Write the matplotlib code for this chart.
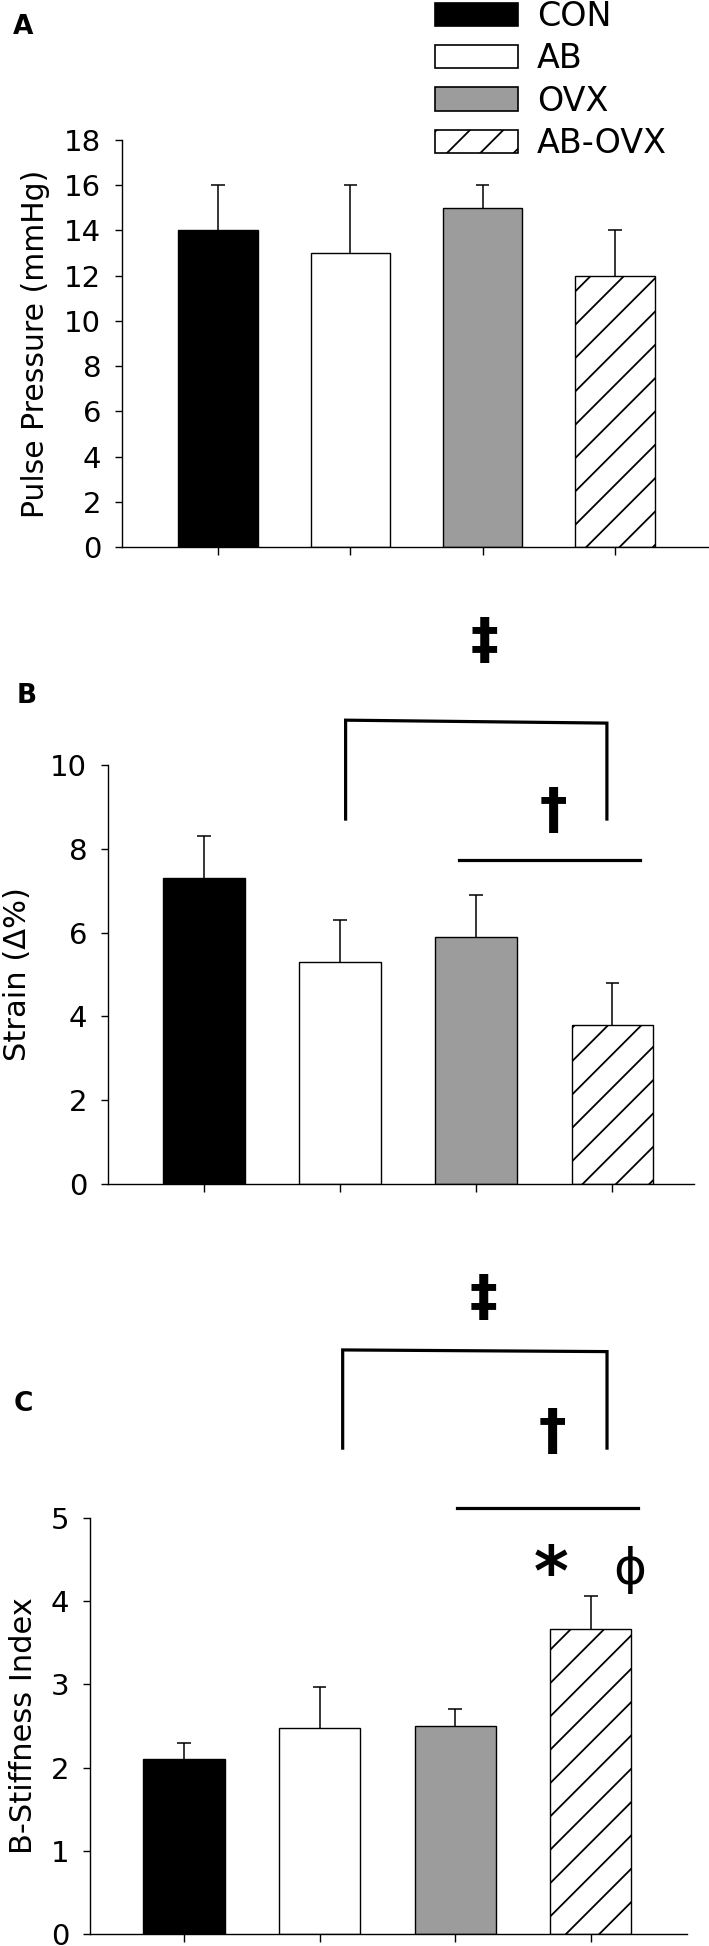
import numpy as np
import matplotlib.pyplot as plt
from matplotlib.patches import Patch

plt.rcParams['font.family'] = ['DejaVu Sans']
plt.rcParams['hatch.linewidth'] = 1.3

groups = ["CON", "AB", "OVX", "AB-OVX"]
colors = ["black", "white", "#9c9c9c", "white"]
hatches = ["", "", "", "/"]

pulse_mean = [14, 13, 15, 12]
pulse_err = [2, 3, 1, 2]
strain_mean = [7.3, 5.3, 5.9, 3.8]
strain_err = [1.0, 1.0, 1.0, 1.0]
stiff_mean = [2.1, 2.47, 2.5, 3.66]
stiff_err = [0.2, 0.5, 0.2, 0.4]

W, H = 709, 1946
fig = plt.figure(figsize=(W / 100, H / 100), dpi=100)


def px_axes(left, right, top, bottom):
    return fig.add_axes([left / W, 1 - bottom / H, (right - left) / W, (bottom - top) / H])


def panel(ax, means, errs, ymax, step, xlim, label, labx, labsize):
    x = np.arange(len(groups))
    means = np.array(means)
    errs = np.array(errs)
    bs = ax.bar(x, means, width=0.6, color=colors, edgecolor='black', linewidth=1.0, zorder=2)
    for b, h in zip(bs, hatches):
        b.set_hatch(h)
    # upward error bars only
    ax.vlines(x, means, means + errs, color='black', lw=1.1, zorder=1)
    ax.hlines(means + errs, x - 0.05, x + 0.05, color='black', lw=1.1, zorder=1)
    ax.set_xlim(*xlim)
    ax.set_ylim(0, ymax)
    ax.set_yticks(np.arange(0, ymax + 0.01, step))
    ax.set_xticks(x)
    ax.spines['top'].set_visible(False)
    ax.spines['right'].set_visible(False)
    ax.spines['left'].set_bounds(0, ymax)
    ax.spines['left'].set_linewidth(1.0)
    ax.spines['bottom'].set_linewidth(1.0)
    ax.tick_params(axis='y', direction='out', length=5, width=1, labelsize=21, pad=10)
    ax.tick_params(axis='x', direction='out', length=6, width=1, labelbottom=False)
    ax.set_ylabel(label, fontsize=labsize)
    ax.yaxis.label.set_va('center')
    ax.yaxis.set_label_coords(labx, 0.5)
    ax.patch.set_alpha(0)


sym = dict(fontsize=40, fontweight='bold', ha='center', va='center')

# panel A
axA = px_axes(122, 709, 140, 547)
panel(axA, pulse_mean, pulse_err, 18, 2, (-0.726, 3.71), "Pulse Pressure (mmHg)", -0.147, 21.5)
fig.text(23 / W, 1 - 27 / H, "A", fontsize=19, fontweight='bold', ha='center', va='center')

handles = [Patch(facecolor=c, edgecolor='black', hatch=h, linewidth=1.2) for c, h in zip(colors, hatches)]
fig.legend(handles, groups, loc='upper left', bbox_to_anchor=(435 / W, 1.0), frameon=False,
           fontsize=24, handlelength=2.5, handleheight=0.7, labelspacing=0.28,
           handletextpad=0.55, borderpad=0, borderaxespad=0)

# panel B
axB = px_axes(108, 694, 765, 1184)
panel(axB, strain_mean, strain_err, 10, 2, (-0.706, 3.6), "Strain (\u0394%)", -0.154, 22)
fig.text(27 / W, 1 - 696 / H, "B", fontsize=19, fontweight='bold', ha='center', va='center')
axB.plot([1.04, 1.04, 2.96, 2.96], [8.71, 11.07, 11.0, 8.71], color='black', lw=2.3,
         clip_on=False, solid_joinstyle='miter')
axB.plot([1.87, 3.2], [7.73, 7.73], color='black', lw=2.3, clip_on=False)
axB.text(2.06, 12.93, "\u2021", **sym)
axB.text(2.57, 8.88, "\u2020", **sym)

# panel C
axC = px_axes(90, 687, 1518, 1934)
panel(axC, stiff_mean, stiff_err, 5, 1, (-0.694, 3.71), "B-Stiffness Index", -0.112, 22)
fig.text(23 / W, 1 - 1404 / H, "C", fontsize=19, fontweight='bold', ha='center', va='center')
axC.plot([1.17, 1.17, 3.12, 3.12], [5.84, 7.02, 7.0, 5.84], color='black', lw=2.3,
         clip_on=False, solid_joinstyle='miter')
axC.plot([2.01, 3.35], [5.12, 5.12], color='black', lw=2.3, clip_on=False)
axC.text(2.21, 7.63, "\u2021", **sym)
axC.text(2.72, 6.02, "\u2020", **sym)
axC.text(2.71, 4.3, "*", fontsize=48, fontweight='bold', ha='center', va='center')
axC.text(3.29, 4.38, "\u03d5", fontsize=36, ha='center', va='center')

fig.savefig("out.png", dpi=100)
